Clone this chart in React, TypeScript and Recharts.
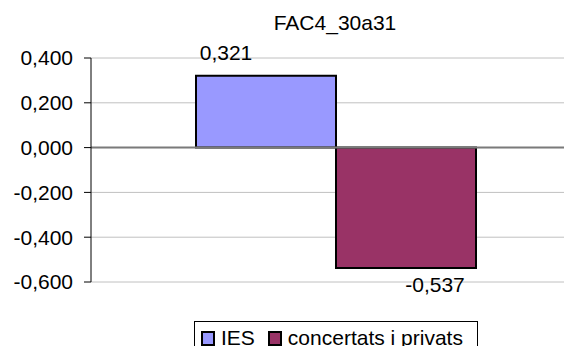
import { BarChart, Bar, XAxis, YAxis, CartesianGrid, ReferenceLine, LabelList } from 'recharts';

const categories = ['FAC4_30a31'];
const seriesNames = ['IES', 'concertats i privats'];
const iesValues = [0.321];
const concertatsValues = [-0.537];
const yTicks = [-0.6, -0.4, -0.2, 0, 0.2, 0.4];

const FONT = '"Liberation Sans", Arial, sans-serif';
const IES_COLOR = '#9999FF';
const CONC_COLOR = '#993366';

const data = categories.map((name, i) => ({
  name,
  ies: iesValues[i],
  conc: concertatsValues[i],
}));

const legendItems = [
  { value: seriesNames[0], color: IES_COLOR },
  { value: seriesNames[1], color: CONC_COLOR },
];

const fmt = (v: number) => v.toFixed(3).replace('.', ',');

// value label sits off to the side of the bar end, like the spreadsheet export
const renderValueLabel = (props: any) => {
  const { x, y, width, height, value } = props;
  const top = Math.min(y, y + height);
  const bottom = Math.max(y, y + height);
  const cx = x + width / 2;
  const pos = value >= 0;
  return (
    <text
      x={pos ? cx - 40 : cx + 29}
      y={pos ? top - 23 : bottom + 17}
      textAnchor="middle"
      dominantBaseline="central"
      fontSize={21}
      fontFamily={FONT}
      fill="#000"
    >
      {fmt(value)}
    </text>
  );
};

function LegendBox() {
  return (
    <div
      style={{
        position: 'absolute',
        left: 194,
        top: 321,
        width: 284,
        height: 40,
        border: '1px solid #000',
        display: 'flex',
        alignItems: 'flex-start',
        paddingTop: 5,
        paddingLeft: 6,
        boxSizing: 'border-box',
        fontFamily: FONT,
        fontSize: 21,
        lineHeight: '22px',
        background: '#fff',
      }}
    >
      {legendItems.map((entry) => (
        <div key={entry.value} style={{ display: 'flex', alignItems: 'center', marginRight: 13 }}>
          <span
            style={{
              display: 'inline-block',
              width: 14,
              height: 15,
              boxSizing: 'border-box',
              border: '2px solid #000',
              background: entry.color,
              marginRight: 6,
            }}
          />
          <span>{entry.value}</span>
        </div>
      ))}
    </div>
  );
}

export default function App() {
  return (
    <div
      style={{
        position: 'relative',
        margin: -8,
        width: 572,
        height: 354,
        overflow: 'hidden',
        background: '#fff',
      }}
    >
      <div
        style={{
          position: 'absolute',
          left: 235,
          width: 200,
          top: 11,
          textAlign: 'center',
          fontFamily: FONT,
          fontSize: 21,
          lineHeight: '24px',
          zIndex: 1,
        }}
      >
        FAC4_30a31
      </div>
      <BarChart
        width={600}
        height={354}
        data={data}
        margin={{ top: 58, right: 19, bottom: 72, left: 0 }}
        barGap={0}
        barSize={140}
      >
        <CartesianGrid horizontal vertical={false} stroke="#C0C0C0" />
        <XAxis dataKey="name" hide />
        <YAxis
          width={91}
          domain={[-0.6, 0.4]}
          ticks={yTicks}
          interval={0}
          tickFormatter={fmt}
          tickSize={7}
          tickMargin={11}
          axisLine={{ stroke: '#000' }}
          tickLine={{ stroke: '#000' }}
          tick={{ fill: '#000', fontSize: 21, fontFamily: FONT }}
        />
        <ReferenceLine y={0} stroke="#7a7a7a" strokeWidth={2} />
        <Bar dataKey="ies" name={seriesNames[0]} fill={IES_COLOR} stroke="#000" strokeWidth={2} isAnimationActive={false}>
          <LabelList dataKey="ies" content={renderValueLabel} />
        </Bar>
        <Bar dataKey="conc" name={seriesNames[1]} fill={CONC_COLOR} stroke="#000" strokeWidth={2} isAnimationActive={false}>
          <LabelList dataKey="conc" content={renderValueLabel} />
        </Bar>
      </BarChart>
      <LegendBox />
    </div>
  );
}
